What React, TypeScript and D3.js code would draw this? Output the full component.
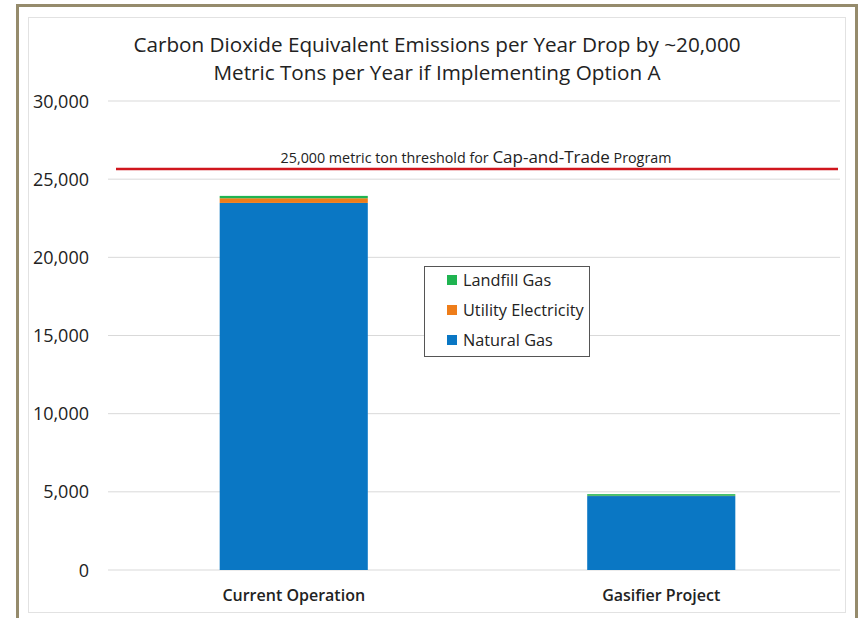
import React from "react";
import * as d3 from "d3";

const categories = ["Current Operation", "Gasifier Project"];
const seriesNames = ["Natural Gas", "Utility Electricity", "Landfill Gas"];
const naturalGas = [23480, 4730];
const utilityElectricity = [300, 20];
const landfillGas = [150, 100];
const seriesColors = ["#0a77c4", "#ee7d1a", "#1fb451"];
const yTicks = [0, 5000, 10000, 15000, 20000, 25000, 30000];
const thresholdValue = 25650;
const titleLines = [
  "Carbon Dioxide Equivalent Emissions per Year Drop by ~20,000",
  "Metric Tons per Year if Implementing Option A",
];

const W = 861;
const H = 618;
const FONT = "'Open Sans', 'Noto Sans', sans-serif";

export default function App() {
  const y = d3.scaleLinear().domain([0, 30000]).range([570, 101]);
  const x = d3.scaleBand().domain(categories).range([112, 843]).paddingInner(0.597).paddingOuter(0.293);
  const data = categories.map((c, i) => ({
    cat: c,
    "Natural Gas": naturalGas[i],
    "Utility Electricity": utilityElectricity[i],
    "Landfill Gas": landfillGas[i],
  }));
  const stack = d3.stack<any>().keys(seriesNames)(data);
  const fmt = d3.format(",");
  const legendOrder = [2, 1, 0];

  return (
    <svg width={W} height={H} style={{ position: "absolute", left: 0, top: 0, background: "#fff" }} fontFamily={FONT}>
      <rect x={0} y={0} width={W} height={H} fill="#fff" />
      <rect x={17.5} y={5.5} width={839} height={640} fill="none" stroke="#958b6c" strokeWidth={3} />
      <rect x={28.5} y={17.5} width={817} height={595} fill="none" stroke="#e2e2e2" strokeWidth={1} />
      {titleLines.map((t, i) => (
        <text key={i} x={437} y={52 + i * 28} textAnchor="middle" fontSize={20.7} fill="#222">
          {t}
        </text>
      ))}
      {yTicks.map((v) => (
        <g key={v}>
          <line x1={108} x2={840} y1={y(v)} y2={y(v)} stroke="#d9d9d9" strokeWidth={1} />
          <text x={89} y={y(v) + 6.5} textAnchor="end" fontSize={18} fill="#222">
            {fmt(v)}
          </text>
        </g>
      ))}
      {stack.map((s, si) =>
        s.map((d, di) => (
          <rect
            key={si + "-" + di}
            x={x(categories[di])}
            width={x.bandwidth()}
            y={y(d[1])}
            height={y(d[0]) - y(d[1])}
            fill={seriesColors[si]}
          />
        ))
      )}
      <line x1={116} x2={838} y1={y(thresholdValue)} y2={y(thresholdValue)} stroke="#d0161d" strokeWidth={2.5} />
      <text x={476} y={y(thresholdValue) - 6} textAnchor="middle" fontSize={14.3} fill="#222">
        25,000 metric ton threshold for <tspan fontSize={17}>Cap-and-Trade</tspan> Program
      </text>
      {categories.map((c) => (
        <text key={c} x={(x(c) as number) + x.bandwidth() / 2} y={601} textAnchor="middle" fontSize={16} fontWeight={600} fill="#222">
          {c}
        </text>
      ))}
      <rect x={424.5} y={266.5} width={165} height={90} fill="#fff" stroke="#555" strokeWidth={1} />
      {legendOrder.map((si, i) => (
        <g key={si}>
          <rect x={447} y={275 + i * 30} width={10} height={10} fill={seriesColors[si]} />
          <text x={463} y={286 + i * 30} fontSize={16.3} fill="#222">
            {seriesNames[si]}
          </text>
        </g>
      ))}
    </svg>
  );
}
